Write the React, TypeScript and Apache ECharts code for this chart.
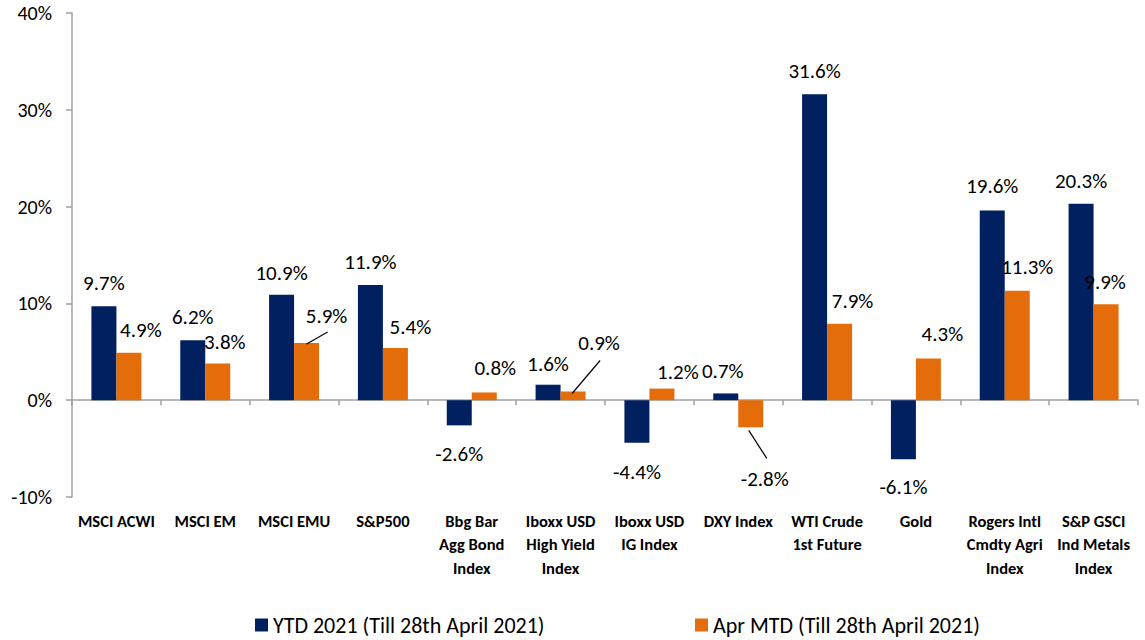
import React, { useEffect, useRef } from "react";
import * as echarts from "echarts";

const categories = [
  "MSCI ACWI",
  "MSCI EM",
  "MSCI EMU",
  "S&P500",
  "Bbg Bar\nAgg Bond\nIndex",
  "Iboxx USD\nHigh Yield\nIndex",
  "Iboxx USD\nIG Index",
  "DXY Index",
  "WTI Crude\n1st Future",
  "Gold",
  "Rogers Intl\nCmdty Agri\nIndex",
  "S&P GSCI\nInd Metals\nIndex",
];

const ytdName = "YTD 2021 (Till 28th April 2021)";
const mtdName = "Apr MTD (Till 28th April 2021)";

const ytdValues = [9.7, 6.2, 10.9, 11.9, -2.6, 1.6, -4.4, 0.7, 31.6, -6.1, 19.6, 20.3];
const mtdValues = [4.9, 3.8, 5.9, 5.4, 0.8, 0.9, 1.2, -2.8, 7.9, 4.3, 11.3, 9.9];

const yMin = -10;
const yMax = 40;
const yInterval = 10;

// label placement (pixel offsets of label centre from the bar end)
const ytdLabelOffsets: [number, number][] = [
  [0, -23], [0, -23], [0, -22], [0, -23], [0, 29], [0, -21],
  [0, 29], [-3, -22], [0, -23], [0, 28], [0, -24], [0, -23],
];
const mtdLabelOffsets: [number, number][] = [
  [12, -23], [7, -21], [20, -27], [15, -21], [11, -24], [26, -48],
  [16, -17], [14, 52], [13, -23], [14, -25], [10, -24], [-1, -22],
];
// leader lines for moved MTD labels: [category index, from dx, from dy, to dx, to dy]
const mtdLeaders: [number, number, number, number, number][] = [
  [2, 0, 1, 21, -11],
  [5, -1, 2, 27, -31],
  [7, -2, 3, 16, 31],
];

const FONT = "Carlito, Lato, 'Liberation Sans', sans-serif";
const NAVY = "#002060";
const ORANGE = "#E46C0A";
const AXIS = "#A0A0A0";
const BAR_W = 25;
const LH = 22;

function buildData(values: number[], offsets: [number, number][]) {
  return values.map((v, i) => {
    const [dx, dy] = offsets[i];
    return {
      value: v,
      label: {
        position: v < 0 ? "bottom" : "top",
        offset: [dx, v < 0 ? dy - LH / 2 : dy + LH / 2],
      },
    };
  });
}

export default function App() {
  const ref = useRef<HTMLDivElement>(null);

  useEffect(() => {
    if (!ref.current) return;
    const chart = echarts.init(ref.current, undefined, { renderer: "svg" });

    const labelStyle = {
      show: true,
      distance: 0,
      fontFamily: FONT,
      fontSize: 21,
      lineHeight: LH,
      color: "#000",
      formatter: (p: any) => `${Number(p.value).toFixed(1)}%`,
    };

    const legendText = { fontFamily: FONT, fontSize: 22, color: "#000", lineHeight: 24 };

    chart.setOption({
      animation: false,
      textStyle: { fontFamily: FONT },
      grid: { left: 72, right: 7, top: 13, bottom: 143, containLabel: false },
      legend: [
        {
          data: [ytdName],
          left: 255,
          top: 613,
          padding: 0,
          icon: "rect",
          itemWidth: 13,
          itemHeight: 13,
          itemGap: 0,
          textStyle: legendText,
        },
        {
          data: [mtdName],
          left: 695,
          top: 613,
          padding: 0,
          icon: "rect",
          itemWidth: 13,
          itemHeight: 13,
          itemGap: 0,
          textStyle: legendText,
        },
      ],
      xAxis: [
        {
          type: "category",
          data: categories,
          axisLine: { onZero: true, lineStyle: { color: AXIS, width: 1.5 } },
          axisTick: { show: true, length: 5, lineStyle: { color: AXIS, width: 1.5 } },
          axisLabel: { show: false },
        },
        {
          type: "category",
          data: categories,
          position: "bottom",
          axisLine: { show: false, onZero: false },
          axisTick: { show: false },
          axisLabel: {
            show: true,
            interval: 0,
            margin: 12,
            fontFamily: FONT,
            fontWeight: "bold",
            fontSize: 16.5,
            lineHeight: 23.5,
            color: "#000",
          },
        },
      ],
      yAxis: {
        type: "value",
        min: yMin,
        max: yMax,
        interval: yInterval,
        axisLine: { show: true, lineStyle: { color: AXIS, width: 1.5 } },
        axisTick: { show: true, length: 6, lineStyle: { color: AXIS, width: 1.5 } },
        splitLine: { show: false },
        axisLabel: {
          formatter: "{value}%",
          margin: 20,
          fontFamily: FONT,
          fontSize: 20,
          color: "#000",
        },
      },
      series: [
        {
          name: ytdName,
          type: "bar",
          xAxisIndex: 0,
          barWidth: BAR_W,
          barGap: "0%",
          itemStyle: { color: NAVY },
          label: labelStyle,
          data: buildData(ytdValues, ytdLabelOffsets),
        },
        {
          name: mtdName,
          type: "bar",
          xAxisIndex: 0,
          barWidth: BAR_W,
          barGap: "0%",
          itemStyle: { color: ORANGE },
          label: labelStyle,
          data: buildData(mtdValues, mtdLabelOffsets),
        },
      ],
    });

    const lines = mtdLeaders.map(([i, fx, fy, tx, ty]) => {
      const p = chart.convertToPixel({ xAxisIndex: 0, yAxisIndex: 0 }, [i, mtdValues[i]]) as number[];
      const cx = p[0] + BAR_W / 2;
      const cy = p[1];
      return {
        type: "line",
        shape: { x1: cx + fx, y1: cy + fy, x2: cx + tx, y2: cy + ty },
        style: { stroke: "#000", lineWidth: 1.2 },
        z: 10,
      };
    });
    chart.setOption({ graphic: lines });

    return () => chart.dispose();
  }, []);

  return (
    <div
      ref={ref}
      style={{ position: "fixed", left: 0, top: 0, width: 1145, height: 640, background: "#fff" }}
    />
  );
}
